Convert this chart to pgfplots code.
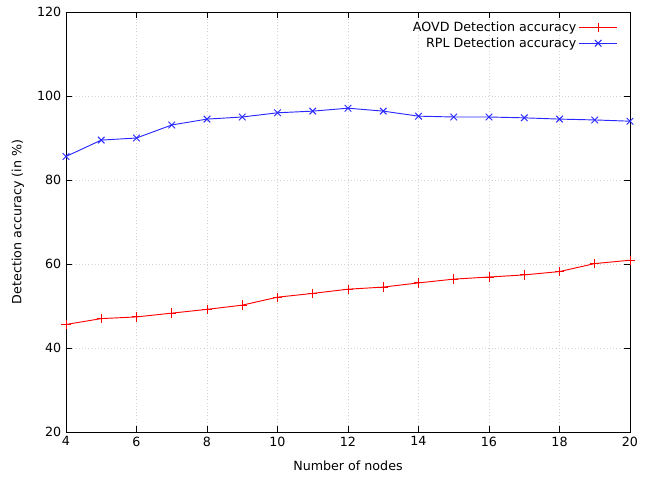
\documentclass[border=0pt]{standalone}
\usepackage{pgfplots}
\pgfplotsset{compat=1.18}
\usepackage{fontspec}
\setmainfont{DejaVu Sans}
\definecolor{gpblue}{RGB}{40,40,255}
\begin{document}
\begin{tikzpicture}[x=0.75pt,y=0.75pt]
\begin{axis}[
  scale only axis,
  width=423pt, height=315pt,
  xmin=4, xmax=20, ymin=20, ymax=120,
  xtick={4,6,...,20}, ytick={20,40,...,120},
  tick align=inside,
  major tick length=4.5pt,
  grid=major,
  grid style={dotted, gray!35, line width=0.6pt},
  axis line style={line width=0.7pt},
  tick style={line width=0.7pt, black},
  /pgf/number format/assume math mode=true,
  tick label style={font=\fontsize{9.5}{11}\selectfont},
  label style={font=\fontsize{9.5}{11}\selectfont},
  xlabel={Number of nodes},
  ylabel={Detection accuracy (in \%)},
  xlabel style={yshift=-4pt},
  ylabel style={yshift=3pt},
  legend style={draw=none, fill=none, at={(0.985,0.99)}, anchor=north east,
    font=\fontsize{9.5}{11}\selectfont, row sep=-1pt},
  legend cell align=right,
  legend plot pos=right,
  legend image code/.code={\draw[mark repeat=2,mark phase=2,#1] plot coordinates {(0pt,0pt) (14pt,0pt) (28pt,0pt)};},
]
\addplot[color=red, line width=0.7pt, mark=+, mark size=3.5pt, mark options={solid, draw=red}] coordinates {
(4,45.6) (5,47.0) (6,47.4) (7,48.3) (8,49.2) (9,50.2) (10,52.1) (11,53.0) (12,54.0)
(13,54.5) (14,55.5) (15,56.4) (16,56.9) (17,57.4) (18,58.2) (19,60.1) (20,60.9)};
\addlegendentry{AOVD Detection accuracy}
\addplot[color=gpblue, line width=0.7pt, mark=x, mark size=3.5pt, mark options={solid, draw=gpblue}] coordinates {
(4,85.6) (5,89.5) (6,90.0) (7,93.1) (8,94.5) (9,95.0) (10,96.0) (11,96.4) (12,97.1)
(13,96.4) (14,95.2) (15,95.0) (16,95.0) (17,94.8) (18,94.5) (19,94.3) (20,94.0)};
\addlegendentry{RPL Detection accuracy}
\end{axis}
\pgfresetboundingbox
\path (current axis.south west) ++(-66,-47) coordinate (bl);
\path (current axis.north east) ++(20,12) coordinate (tr);
\useasboundingbox (bl) rectangle (tr);
\end{tikzpicture}
\end{document}
